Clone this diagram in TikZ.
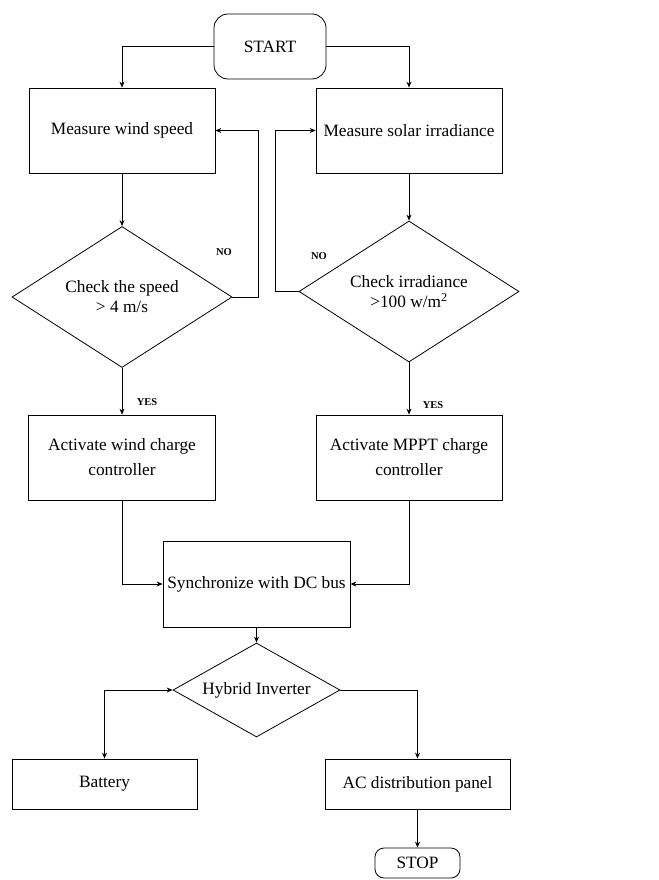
\documentclass[tikz,border=0pt]{standalone}
\usepackage{fontspec}
\setmainfont{Liberation Serif}
\usetikzlibrary{shapes.geometric,arrows.meta}
\begin{document}
\begin{tikzpicture}[x=1pt,y=-1pt,
  line width=0.8pt,
  box/.style={draw, rectangle, inner sep=0pt, align=center, font=\fontsize{17.3}{25}\selectfont},
  term/.style={draw, rectangle, rounded corners=#1, inner sep=0pt, font=\fontsize{17.3}{25}\selectfont},
  dec/.style={draw, diamond, inner sep=0pt, align=center, font=\fontsize{17.3}{20}\selectfont},
  lab/.style={font=\fontsize{10.5}{12}\selectfont\bfseries, inner sep=0pt},
  arr/.style={-{Stealth[length=6pt,width=5pt]}},
  arrboth/.style={{Stealth[length=6pt,width=5pt]}-{Stealth[length=6pt,width=5pt]}}
]
\useasboundingbox (0,0) rectangle (658,880);

\node[term=14pt, minimum width=112pt, minimum height=65pt] (start) at (270,46.5) {START};
\node[box, minimum width=186pt, minimum height=85pt] (wind) at (122,130.5) {Measure wind speed};
\node[box, minimum width=186pt, minimum height=85pt] (solar) at (409,130.5) {Measure solar irradiance};
\node[dec, shape aspect=1.56, minimum width=220pt, minimum height=141pt] (d1) at (122,297) {Check the speed\\> 4 m/s};
\node[dec, shape aspect=1.56, minimum width=220pt, minimum height=141pt] (d2) at (409,291.5) {Check irradiance\\>100 w/m\textsuperscript{2}};
\node[box, minimum width=187pt, minimum height=85pt] (wc) at (122,457.5) {Activate wind charge\\controller};
\node[box, minimum width=186pt, minimum height=85pt] (mppt) at (409,457.5) {Activate MPPT charge\\controller};
\node[box, minimum width=187pt, minimum height=86pt] (sync) at (256.5,584) {Synchronize with DC bus};
\node[dec, shape aspect=1.78, minimum width=167pt, minimum height=94pt] (inv) at (256.5,690) {Hybrid Inverter};
\node[box, minimum width=185pt, minimum height=50pt] (bat) at (104.5,784) {Battery};
\node[box, minimum width=185pt, minimum height=50pt] (ac) at (417.5,784) {AC distribution panel};
\node[term=9pt, minimum width=85pt, minimum height=30pt] (stop) at (417.5,863) {STOP};

\node[lab] (no1) at (224,252) {NO};
\node[lab] (no2) at (319,256) {NO};
\node[lab] (yes1) at (147,402) {YES};
\node[lab] (yes2) at (433,405) {YES};

\draw[arr] (start.west) -| (wind.north);
\draw[arr] (start.east) -| (solar.north);
\draw[arr] (wind.south) -- (d1.north);
\draw[arr] (d1.east) -- ++(26,0) |- (wind.east);
\draw[arr] (d1.south) -- (wc.north);
\draw[arr] (solar.south) -- (d2.north);
\draw[arr] (d2.west) -- ++(-23,0) |- (solar.west);
\draw[arr] (d2.south) -- (mppt.north);
\draw[arr] (wc.south) |- (sync.west);
\draw[arr] (mppt.south) |- (sync.east);
\draw[arr] (sync.south) -- (inv.north);
\draw[arrboth] (bat.north) |- (inv.west);
\draw[arr] (inv.east) -| (ac.north);
\draw[arr] (ac.south) -- (stop.north);
\end{tikzpicture}
\end{document}
